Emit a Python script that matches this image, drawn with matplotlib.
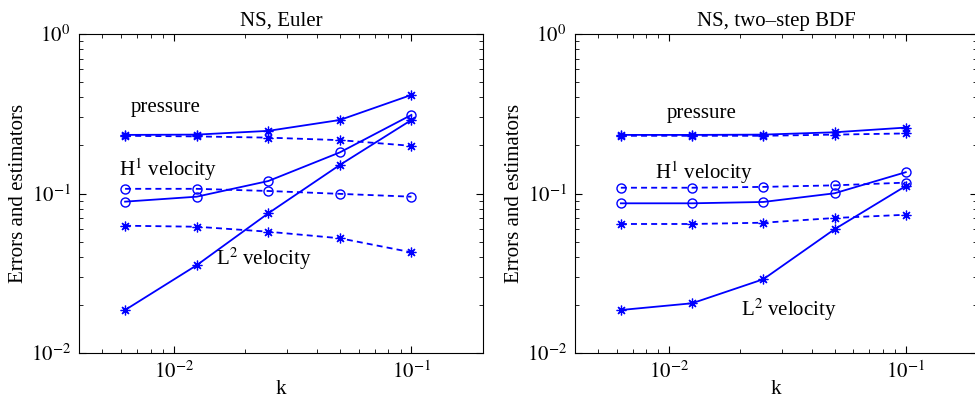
import matplotlib
matplotlib.use("Agg")
import matplotlib.pyplot as plt
import numpy as np
from matplotlib.ticker import LogLocator, NullFormatter

plt.rcParams['font.family'] = ['Liberation Serif', 'DejaVu Serif']
plt.rcParams['mathtext.fontset'] = 'stix'

# time steps
k = [0.00625, 0.0125, 0.025, 0.05, 0.1]

# NS, Euler  (solid = errors, dashed = estimators)
euler_p_err = [0.233, 0.234, 0.247, 0.289, 0.415]
euler_p_est = [0.230, 0.228, 0.224, 0.216, 0.199]
euler_h1_err = [0.0889, 0.0955, 0.1197, 0.181, 0.311]
euler_h1_est = [0.107, 0.107, 0.1037, 0.0995, 0.0955]
euler_l2_err = [0.0186, 0.0355, 0.0751, 0.151, 0.289]
euler_l2_est = [0.0628, 0.0619, 0.0576, 0.0524, 0.0428]

# NS, two-step BDF
bdf_p_err = [0.233, 0.233, 0.234, 0.242, 0.259]
bdf_p_est = [0.230, 0.230, 0.230, 0.234, 0.238]
bdf_h1_err = [0.0868, 0.0868, 0.0885, 0.1003, 0.136]
bdf_h1_est = [0.1087, 0.1087, 0.110, 0.1125, 0.117]
bdf_l2_err = [0.0186, 0.0205, 0.0290, 0.0597, 0.1114]
bdf_l2_est = [0.0644, 0.0644, 0.0656, 0.0702, 0.0736]

star = (8, 2, 0)
fs = 15
lw = 1.3
dash = (3.3, 2.3)


def panel(ax, title, p, h1, l2, labels):
    for i, (ys, mk) in enumerate([(p, star), (h1, 'o'), (l2, star)]):
        kw = dict(color='b', marker=mk, lw=lw)
        if mk == 'o':
            kw.update(ms=6.5, mfc='none', mew=1.0)
        else:
            kw.update(ms=7, mew=0.9)
        ax.loglog(k, ys[0], '-', **kw)
        ax.loglog(k, ys[1], '--', dashes=dash, **kw)
    ax.set_xlim(0.004, 0.2)
    ax.set_ylim(1e-2, 1)
    ax.set_xticks([1e-2, 1e-1])
    ax.set_yticks([1e-2, 1e-1, 1])
    ax.set_xticklabels([r'$10^{-2}$', r'$10^{-1}$'])
    ax.set_yticklabels([r'$10^{-2}$', r'$10^{-1}$', r'$10^{0}$'])
    ax.xaxis.set_minor_locator(LogLocator(subs=np.arange(2, 10)))
    ax.yaxis.set_minor_locator(LogLocator(subs=np.arange(2, 10)))
    ax.xaxis.set_minor_formatter(NullFormatter())
    ax.yaxis.set_minor_formatter(NullFormatter())
    ax.tick_params(which='both', direction='in', top=True, right=True,
                   labelsize=fs, pad=6)
    ax.tick_params(which='major', length=5)
    ax.tick_params(which='minor', length=3)
    ax.set_title(title, fontsize=fs, pad=6)
    ax.set_xlabel('k', fontsize=fs, labelpad=-2)
    ax.set_ylabel('Errors and estimators', fontsize=fs, labelpad=2)
    for txt, x, y in labels:
        ax.text(x, y, txt, fontsize=fs, transform=ax.transAxes, va='center')


fig = plt.figure(figsize=(9.75, 4), dpi=100)
ax1 = fig.add_axes([79 / 975, 47 / 400, 404 / 975, 319 / 400])
ax2 = fig.add_axes([575 / 975, 47 / 400, 402 / 975, 319 / 400])

panel(ax1, 'NS, Euler',
      (euler_p_err, euler_p_est), (euler_h1_err, euler_h1_est),
      (euler_l2_err, euler_l2_est),
      [('pressure', 0.128, 0.77), (r'H$^1$ velocity', 0.10, 0.575),
       (r'L$^2$ velocity', 0.339, 0.295)])
panel(ax2, 'NS, two\u2013step BDF',
      (bdf_p_err, bdf_p_est), (bdf_h1_err, bdf_h1_est),
      (bdf_l2_err, bdf_l2_est),
      [('pressure', 0.227, 0.75), (r'H$^1$ velocity', 0.199, 0.565),
       (r'L$^2$ velocity', 0.413, 0.135)])

fig.savefig('out.png', dpi=100)
